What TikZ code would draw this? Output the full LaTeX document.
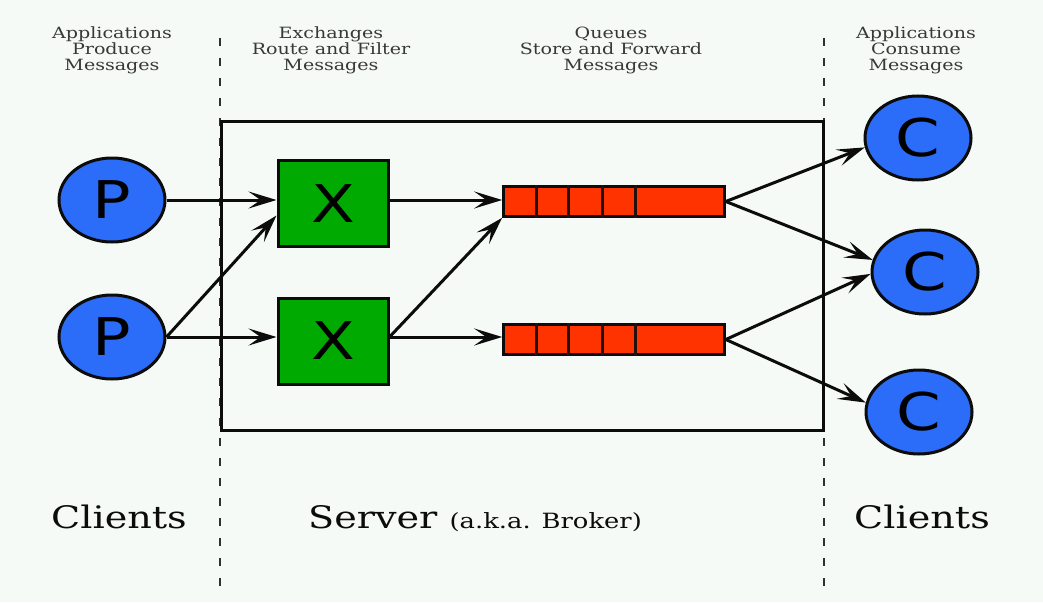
\documentclass[tikz,border=0pt]{standalone}
\usepackage{fontspec}
\setmainfont{DejaVu Serif}
\newfontfamily\lettfont{DejaVu Sans}
\usetikzlibrary{shapes.geometric,arrows.meta,calc}
\definecolor{bgc}{HTML}{F6FAF6}
\definecolor{pblue}{HTML}{2B6CF8}
\definecolor{xgreen}{HTML}{00AA00}
\definecolor{qred}{HTML}{FF3300}
\definecolor{hdr}{HTML}{383838}
\definecolor{ink}{HTML}{0C0C0C}
\newcommand{\hstr}[1]{\scalebox{1.23}[1]{#1}}
\begin{document}
\begin{tikzpicture}[x=1pt,y=-1pt,
  client/.style={ellipse,draw=ink,line width=3pt,fill=pblue,minimum width=106pt,minimum height=84pt,inner sep=0pt,font=\lettfont\fontsize{52}{52}\selectfont},
  exch/.style={rectangle,draw=ink,line width=3pt,fill=xgreen,minimum width=110pt,minimum height=86pt,inner sep=0pt,font=\lettfont\fontsize{52}{52}\selectfont},
  queue/.style={rectangle,draw=ink,line width=2.6pt,fill=qred,minimum width=221pt,minimum height=30pt,inner sep=0pt},
  qdiv/.style={line width=2.6pt,draw=ink!90!qred},
  flow/.style={line width=3pt,draw=ink,-{Stealth[length=28pt,width=17pt,inset=12pt]}},
  sepline/.style={line width=2.8pt,draw=ink!85,dash pattern=on 8pt off 12pt},
  hdrtext/.style={align=center,font=\fontsize{15.5}{15}\selectfont,text=hdr,inner sep=0pt},
  bigtext/.style={font=\fontsize{31}{31}\selectfont,text=ink,inner sep=0pt},
]
\fill[bgc] (0,0) rectangle (1043,602);
\useasboundingbox (0,0) rectangle (1043,602);

% separators
\coordinate (s1t) at (220,38); \coordinate (s1b) at (220,592);
\coordinate (s2t) at (824,38); \coordinate (s2b) at (824,592);
\draw[sepline] (s1t) -- (s1b);
\draw[sepline] (s2t) -- (s2b);

% server box
\node[draw=ink,line width=3pt,minimum width=602pt,minimum height=309pt,inner sep=0pt] (srv) at (522,275.5) {};

% headers
\node[hdrtext] (h1) at (112,51) {\hstr{\begin{tabular}{@{}c@{}}Applications\\Produce\\Messages\end{tabular}}};
\node[hdrtext] (h2) at (331,51) {\hstr{\begin{tabular}{@{}c@{}}Exchanges\\Route and Filter\\Messages\end{tabular}}};
\node[hdrtext] (h3) at (611,51) {\hstr{\begin{tabular}{@{}c@{}}Queues\\Store and Forward\\Messages\end{tabular}}};
\node[hdrtext] (h4) at (916,51) {\hstr{\begin{tabular}{@{}c@{}}Applications\\Consume\\Messages\end{tabular}}};

% producers
\node[client] (P1) at (112,200) {\hstr{P}};
\node[client] (P2) at (112,337) {\hstr{P}};

% exchanges
\node[exch] (X1) at (333,203.5) {\hstr{X}};
\node[exch] (X2) at (333,341) {\hstr{X}};

% queues
\node[queue] (Q1) at (614,201.5) {};
\node[queue] (Q2) at (614,339.5) {};
\foreach \q in {Q1,Q2}{
  \foreach \d in {34,66,100,133}{
    \draw[qdiv] ($(\q.north west)+(\d,0)$) -- ($(\q.south west)+(\d,0)$);
  }
}

% consumers
\node[client] (C1) at (918,138) {\hstr{C}};
\node[client] (C2) at (925,272) {\hstr{C}};
\node[client] (C3) at (919,412) {\hstr{C}};

% flows
\draw[flow] (P1.east) -- (P1.east -| X1.west);
\draw[flow] (P2.east) -- (X1.192);
\draw[flow] (P2.east) -- (P2.east -| X2.west);
\draw[flow] (X1.east |- P1.east) -- (Q1.west |- P1.east);
\draw[flow] (X2.east |- P2.east) -- (Q1.south west);
\draw[flow] (X2.east |- P2.east) -- (Q2.west |- P2.east);
\draw[flow] (Q1.east) -- (C1.190);
\draw[flow] (Q1.east) -- (C2.167);
\draw[flow] (Q2.east) -- (C2.182);
\draw[flow] (Q2.east) -- (C3.170);

% bottom labels
\node[bigtext,anchor=base] (cl1) at (119,528) {\hstr{Clients}};
\node[bigtext,anchor=base west] (srvlbl) at (308,528) {\hstr{Server \fontsize{21}{21}\selectfont(a.k.a. Broker)}};
\node[bigtext,anchor=base] (cl2) at (922,528) {\hstr{Clients}};
\end{tikzpicture}
\end{document}
